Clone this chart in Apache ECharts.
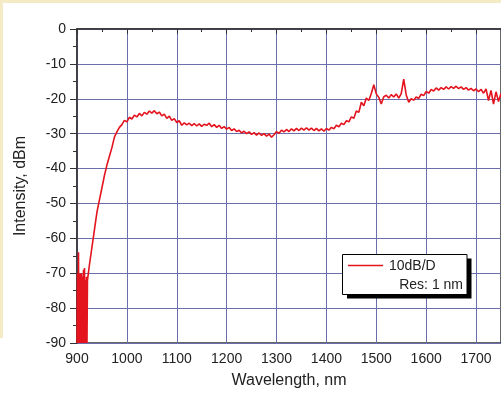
<!DOCTYPE html>
<html>
<head>
<meta charset="utf-8">
<script src="https://cdn.jsdelivr.net/npm/echarts@6/dist/echarts.min.js"></script>
<style>
  html, body { margin: 0; padding: 0; background: #ffffff; }
  #chart { width: 501px; height: 394px; }
</style>
</head>
<body>
<div id="chart"></div>
<script>
// spectrum (nm, dBm)
const wavelengths = [
  900, 901, 902, 903, 904, 905, 906, 907, 908, 909, 910, 911, 912, 913, 914, 915, 916, 917, 918, 919, 920, 921,
  925, 930, 935, 940, 945, 950, 955, 960, 965, 970, 975, 980, 985, 990, 995,
  1000, 1005, 1010, 1015, 1020, 1025, 1030, 1035, 1040, 1045, 1050, 1055, 1060, 1065, 1070, 1075, 1080, 1085, 1090, 1095,
  1100, 1105, 1110, 1115, 1120, 1125, 1130, 1135, 1140, 1145, 1150, 1155, 1160, 1165, 1170, 1175, 1180, 1185, 1190, 1195,
  1200, 1205, 1210, 1215, 1220, 1225, 1230, 1235, 1240, 1245, 1250, 1255, 1260, 1265, 1270, 1275, 1280, 1285, 1290, 1295,
  1300, 1305, 1310, 1315, 1320, 1325, 1330, 1335, 1340, 1345, 1350, 1355, 1360, 1365, 1370, 1375, 1380, 1385, 1390, 1395,
  1400, 1405, 1410, 1415, 1420, 1425, 1430, 1435, 1440, 1445, 1450, 1455, 1460, 1465, 1470, 1475, 1480, 1485, 1490, 1495,
  1500, 1505, 1510, 1515, 1520, 1525, 1530, 1535, 1540, 1545, 1550, 1555, 1560, 1565, 1570, 1575, 1580, 1585, 1590, 1595,
  1600, 1605, 1610, 1615, 1620, 1625, 1630, 1635, 1640, 1645, 1650, 1655, 1660, 1665, 1670, 1675, 1680, 1685, 1690, 1695,
  1700, 1705, 1710, 1715, 1720, 1725, 1730, 1735, 1740, 1745, 1750
];

const intensity = [
  -90, -70, -90, -64, -90, -70, -90, -70, -90, -70, -90, -71, -90, -69, -90, -68.5, -90, -72, -90, -71, -90, -72,
  -67.5, -62.5, -57.5, -52.5, -49, -45.5, -42, -39, -36.5, -34, -31, -29.5, -28.2, -27.4, -26.2,
  -26.6, -25.3, -25.8, -24.7, -25.2, -24.2, -24.9, -23.9, -24.4, -23.5, -24.1, -23.4, -24.3, -23.8, -24.9, -24.4, -25.6, -25.0, -26.2, -25.7,
  -26.8, -26.3, -27.6, -26.9, -27.5, -27.0, -27.7, -27.1, -27.8, -27.2, -27.9, -27.3, -27.6, -27.0, -28.0, -27.4, -28.2, -27.6, -28.5, -28.0,
  -28.7, -28.2, -29.1, -28.6, -29.4, -29.0, -29.8, -29.3, -30.0, -29.5, -30.2, -29.7, -30.4, -29.8, -30.5, -30.0, -30.7, -30.1, -31.0, -30.3,
  -29.4, -29.9, -29.0, -29.5, -28.8, -29.4, -28.6, -29.2, -28.5, -29.1, -28.4, -29.0, -28.3, -29.0, -28.4, -29.1, -28.5, -29.2, -28.6, -29.3,
  -28.5, -29.0, -28.2, -28.6, -27.6, -28.0, -27.0, -27.4, -26.3, -26.6, -25.2, -25.6, -23.5, -23.9, -21.0, -22.0, -19.8, -20.5, -18.5, -16.0,
  -18.6, -19.6, -21.5, -19.4, -19.0, -19.8, -18.8, -19.5, -18.6, -19.8, -18.5, -14.4, -18.9, -21.0, -20.0, -20.4, -19.5, -19.9, -18.7, -19.1,
  -17.9, -18.4, -17.3, -17.8, -16.9, -17.5, -16.8, -17.3, -16.6, -17.2, -16.5, -17.0, -16.4, -17.1, -16.6, -17.3, -16.8, -17.5, -17.0, -17.7,
  -17.2, -18.0, -17.3, -18.4, -17.2, -20.5, -17.6, -21.5, -18.0, -20.8, -18.5
];

const xTickMin = 900;
const xTickMax = 1750;
const yTickMin = -90;
const yTickMax = 0;

const textColor = '#222222';
const gridColor = '#6c6eac';
const fontFamily = '"Liberation Sans", Arial, sans-serif';

const chart = echarts.init(document.getElementById('chart'), null, { renderer: 'canvas' });

const option = {
  animation: false,
  backgroundColor: '#ffffff',
  grid: {
    left: 77,
    top: 29,
    width: 427.5,
    height: 315,
    show: true,
    borderColor: '#333333',
    borderWidth: 1.5,
    backgroundColor: 'transparent'
  },
  xAxis: {
    type: 'value',
    min: xTickMin,
    max: xTickMax,
    interval: 100,
    name: 'Wavelength, nm',
    nameLocation: 'middle',
    nameGap: 30,
    nameTextStyle: { color: textColor, fontSize: 16, fontFamily: fontFamily },
    axisLine: { show: true, lineStyle: { color: '#333333', width: 1.5 } },
    axisTick: { show: true, inside: false, length: 5, lineStyle: { color: '#333333', width: 1 } },
    minorTick: { show: true, splitNumber: 2, length: 3, lineStyle: { color: '#333333', width: 1 } },
    axisLabel: {
      color: textColor,
      fontSize: 14,
      fontFamily: fontFamily,
      margin: 9,
      showMaxLabel: false,
      formatter: (value) => String(value)
    },
    splitLine: { show: true, lineStyle: { color: gridColor, width: 1 } }
  },
  yAxis: {
    type: 'value',
    min: yTickMin,
    max: yTickMax,
    interval: 10,
    name: 'Intensity, dBm',
    nameLocation: 'middle',
    nameGap: 48,
    nameTextStyle: { color: textColor, fontSize: 16, fontFamily: fontFamily },
    axisLine: { show: true, lineStyle: { color: '#333333', width: 1.5 } },
    axisTick: { show: true, inside: false, length: 7, lineStyle: { color: '#333333', width: 1 } },
    minorTick: { show: true, splitNumber: 2, length: 4, lineStyle: { color: '#333333', width: 1 } },
    axisLabel: {
      color: textColor,
      fontSize: 14,
      fontFamily: fontFamily,
      margin: 11,
      formatter: (value) => String(value)
    },
    splitLine: { show: true, lineStyle: { color: gridColor, width: 1 } }
  },
  series: [
    {
      name: '10dB/D',
      type: 'line',
      data: wavelengths.map((w, i) => [w, intensity[i]]),
      showSymbol: false,
      symbol: 'none',
      clip: true,
      lineStyle: { color: '#e3141e', width: 1.6 },
      z: 3
    }
  ],
  graphic: [
    // beige page margin around the figure
    { type: 'rect', shape: { x: 0, y: 0, width: 501, height: 3 }, style: { fill: '#f4eac6' }, silent: true },
    { type: 'rect', shape: { x: 0, y: 0, width: 3, height: 338 }, style: { fill: '#f4eac6' }, silent: true },
    // legend box with hard shadow
    { type: 'rect', z: 10, shape: { x: 347, y: 258.5, width: 124.5, height: 40 }, style: { fill: '#000000' } },
    { type: 'rect', z: 11, shape: { x: 342.5, y: 254.5, width: 124.5, height: 40 }, style: { fill: '#ffffff', stroke: '#000000', lineWidth: 1 } },
    { type: 'line', z: 12, shape: { x1: 348, y1: 265.5, x2: 383, y2: 265.5 }, style: { stroke: '#e3141e', lineWidth: 1.5 } },
    {
      type: 'text', z: 12, x: 389, y: 266,
      style: { text: '10dB/D', fill: textColor, font: '14px ' + fontFamily, textVerticalAlign: 'middle', verticalAlign: 'middle' }
    },
    {
      type: 'text', z: 12, x: 463, y: 285,
      style: { text: 'Res: 1 nm', fill: textColor, font: '14px ' + fontFamily, align: 'right', textAlign: 'right', textVerticalAlign: 'middle', verticalAlign: 'middle' }
    }
  ]
};

chart.setOption(option);
</script>
</body>
</html>
